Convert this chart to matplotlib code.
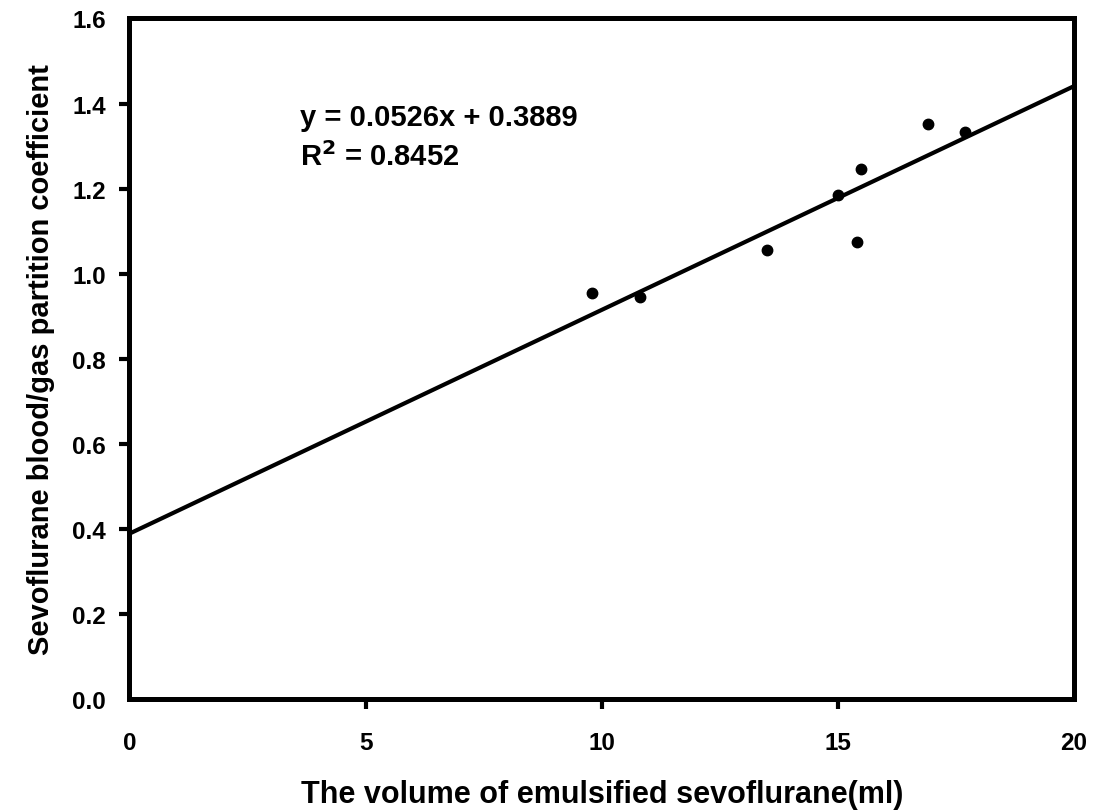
import numpy as np
import matplotlib
matplotlib.use('Agg')
from matplotlib import pyplot as plt

plt.rcParams['font.family'] = ['Liberation Sans', 'DejaVu Sans']
plt.rcParams['font.weight'] = 'bold'

# measured points
volume = [9.8, 10.8, 13.5, 15.0, 15.5, 15.4, 16.9, 17.7]
coef = [0.955, 0.945, 1.055, 1.184, 1.246, 1.074, 1.353, 1.334]

# regression as printed on the chart
slope = 0.0526
intercept = 0.3889
r2 = 0.8452
fit_x = [0, 20]

xticks = [0, 5, 10, 15, 20]
yticks = [0.0, 0.2, 0.4, 0.6, 0.8, 1.0, 1.2, 1.4, 1.6]

fig = plt.figure(figsize=(11.04, 8.12), dpi=100)
ax = fig.add_axes([0.1173, 0.1379, 0.9728 - 0.1173, 0.976 - 0.1379])

fx = np.array(fit_x)
ax.plot(fx, slope * fx + intercept, color='black', lw=3, solid_capstyle='butt', clip_on=False)
ax.plot(volume, coef, 'o', color='black', ms=7.5, clip_on=False)

ax.set_xlim(0, 20)
ax.set_ylim(0, 1.6)
ax.set_xticks(xticks)
ax.set_yticks(yticks)
ax.set_yticklabels(['%.1f' % v for v in yticks])

for s in ax.spines.values():
    s.set_linewidth(3.6)
ax.tick_params(direction='out', length=7, width=3, labelsize=17.5)
ax.tick_params(axis='x', pad=16)
ax.tick_params(axis='y', pad=10)
for t in [ax.xaxis.get_major_ticks()[0], ax.xaxis.get_major_ticks()[-1],
          ax.yaxis.get_major_ticks()[0], ax.yaxis.get_major_ticks()[-1]]:
    t.tick1line.set_visible(False)

ax.set_xlabel('The volume of emulsified sevoflurane(ml)', fontsize=22, fontweight='bold', labelpad=18)
ax.set_ylabel('Sevoflurane blood/gas partition coefficient', fontsize=21, fontweight='bold', labelpad=12)

# annotation placed in pixel coordinates (from the top-left of the reference)
H = 812
ax.text(300, H - 118, 'y = %.4fx + %.4f' % (slope, intercept), transform=None, fontsize=21,
        fontweight='bold', va='center', ha='left')
ax.text(300, H - 157, 'R$^{\\mathbf{2}}$ = %.4f' % r2, transform=None, fontsize=21,
        fontweight='bold', va='center', ha='left')

plt.savefig('out.png', dpi=100)
